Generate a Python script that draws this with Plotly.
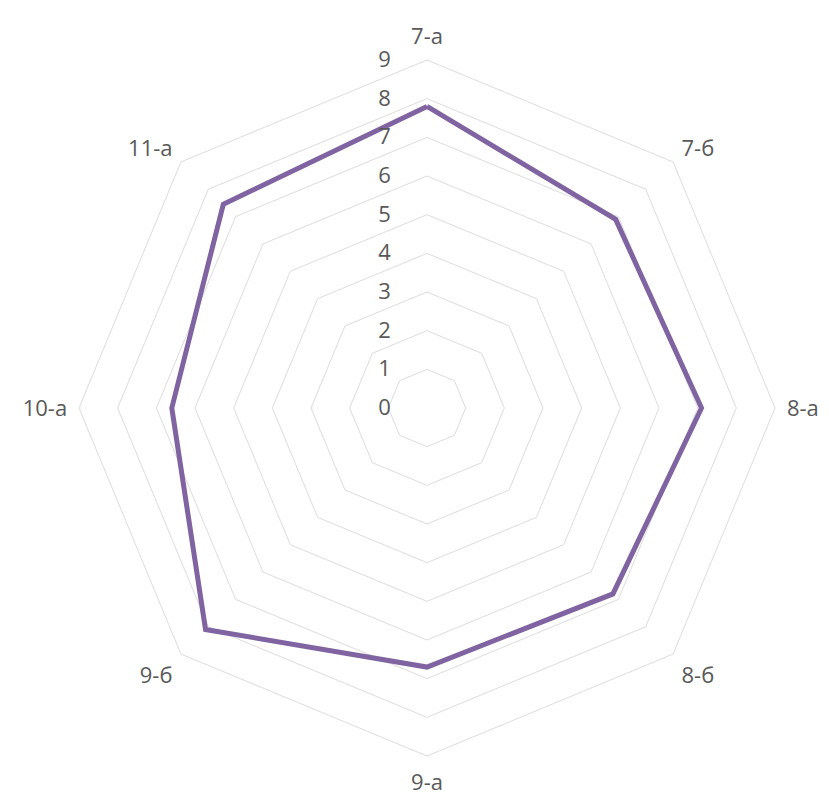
import plotly.graph_objects as go

categories = ["7-а", "7-б", "8-а", "8-б", "9-а", "9-б", "10-а", "11-а"]
values = [7.8, 6.9, 7.1, 6.8, 6.7, 8.1, 6.6, 7.45]
radial_ticks = [0, 1, 2, 3, 4, 5, 6, 7, 8, 9]

fig = go.Figure()
fig.add_trace(go.Scatterpolar(
    r=values + [values[0]],
    theta=categories + [categories[0]],
    mode="lines",
    line=dict(color="#8064a2", width=5),
    showlegend=False,
    hoverinfo="r+theta",
))

W, H = 829, 800
cx, cy, R = 427, 408, 348
fig.update_layout(
    width=W, height=H,
    margin=dict(l=0, r=0, t=0, b=0),
    paper_bgcolor="white",
    font=dict(family="Open Sans, DejaVu Sans, sans-serif", size=22, color="#595959"),
    polar=dict(
        domain=dict(x=[(cx - R) / W, (cx + R) / W], y=[1 - (cy + R) / H, 1 - (cy - R) / H]),
        bgcolor="white",
        gridshape="linear",
        angularaxis=dict(
            rotation=90, direction="clockwise",
            showgrid=False, showline=True, linecolor="#dcdcdc", linewidth=1,
            ticks="outside", ticklen=7, tickcolor="rgba(0,0,0,0)",
            tickfont=dict(size=22, color="#595959"),
        ),
        radialaxis=dict(
            range=[0, 9], tickvals=radial_ticks, ticktext=[str(t) for t in radial_ticks],
            angle=90, tickangle=90, side="counterclockwise",
            showline=False, gridcolor="#dcdcdc", gridwidth=1,
            ticks="outside", ticklen=28, tickcolor="rgba(0,0,0,0)",
            tickfont=dict(size=22, color="#595959"),
        ),
    ),
)

fig.write_html("out.html", config={"displayModeBar": False},
               post_script="document.body.style.margin='0';")
